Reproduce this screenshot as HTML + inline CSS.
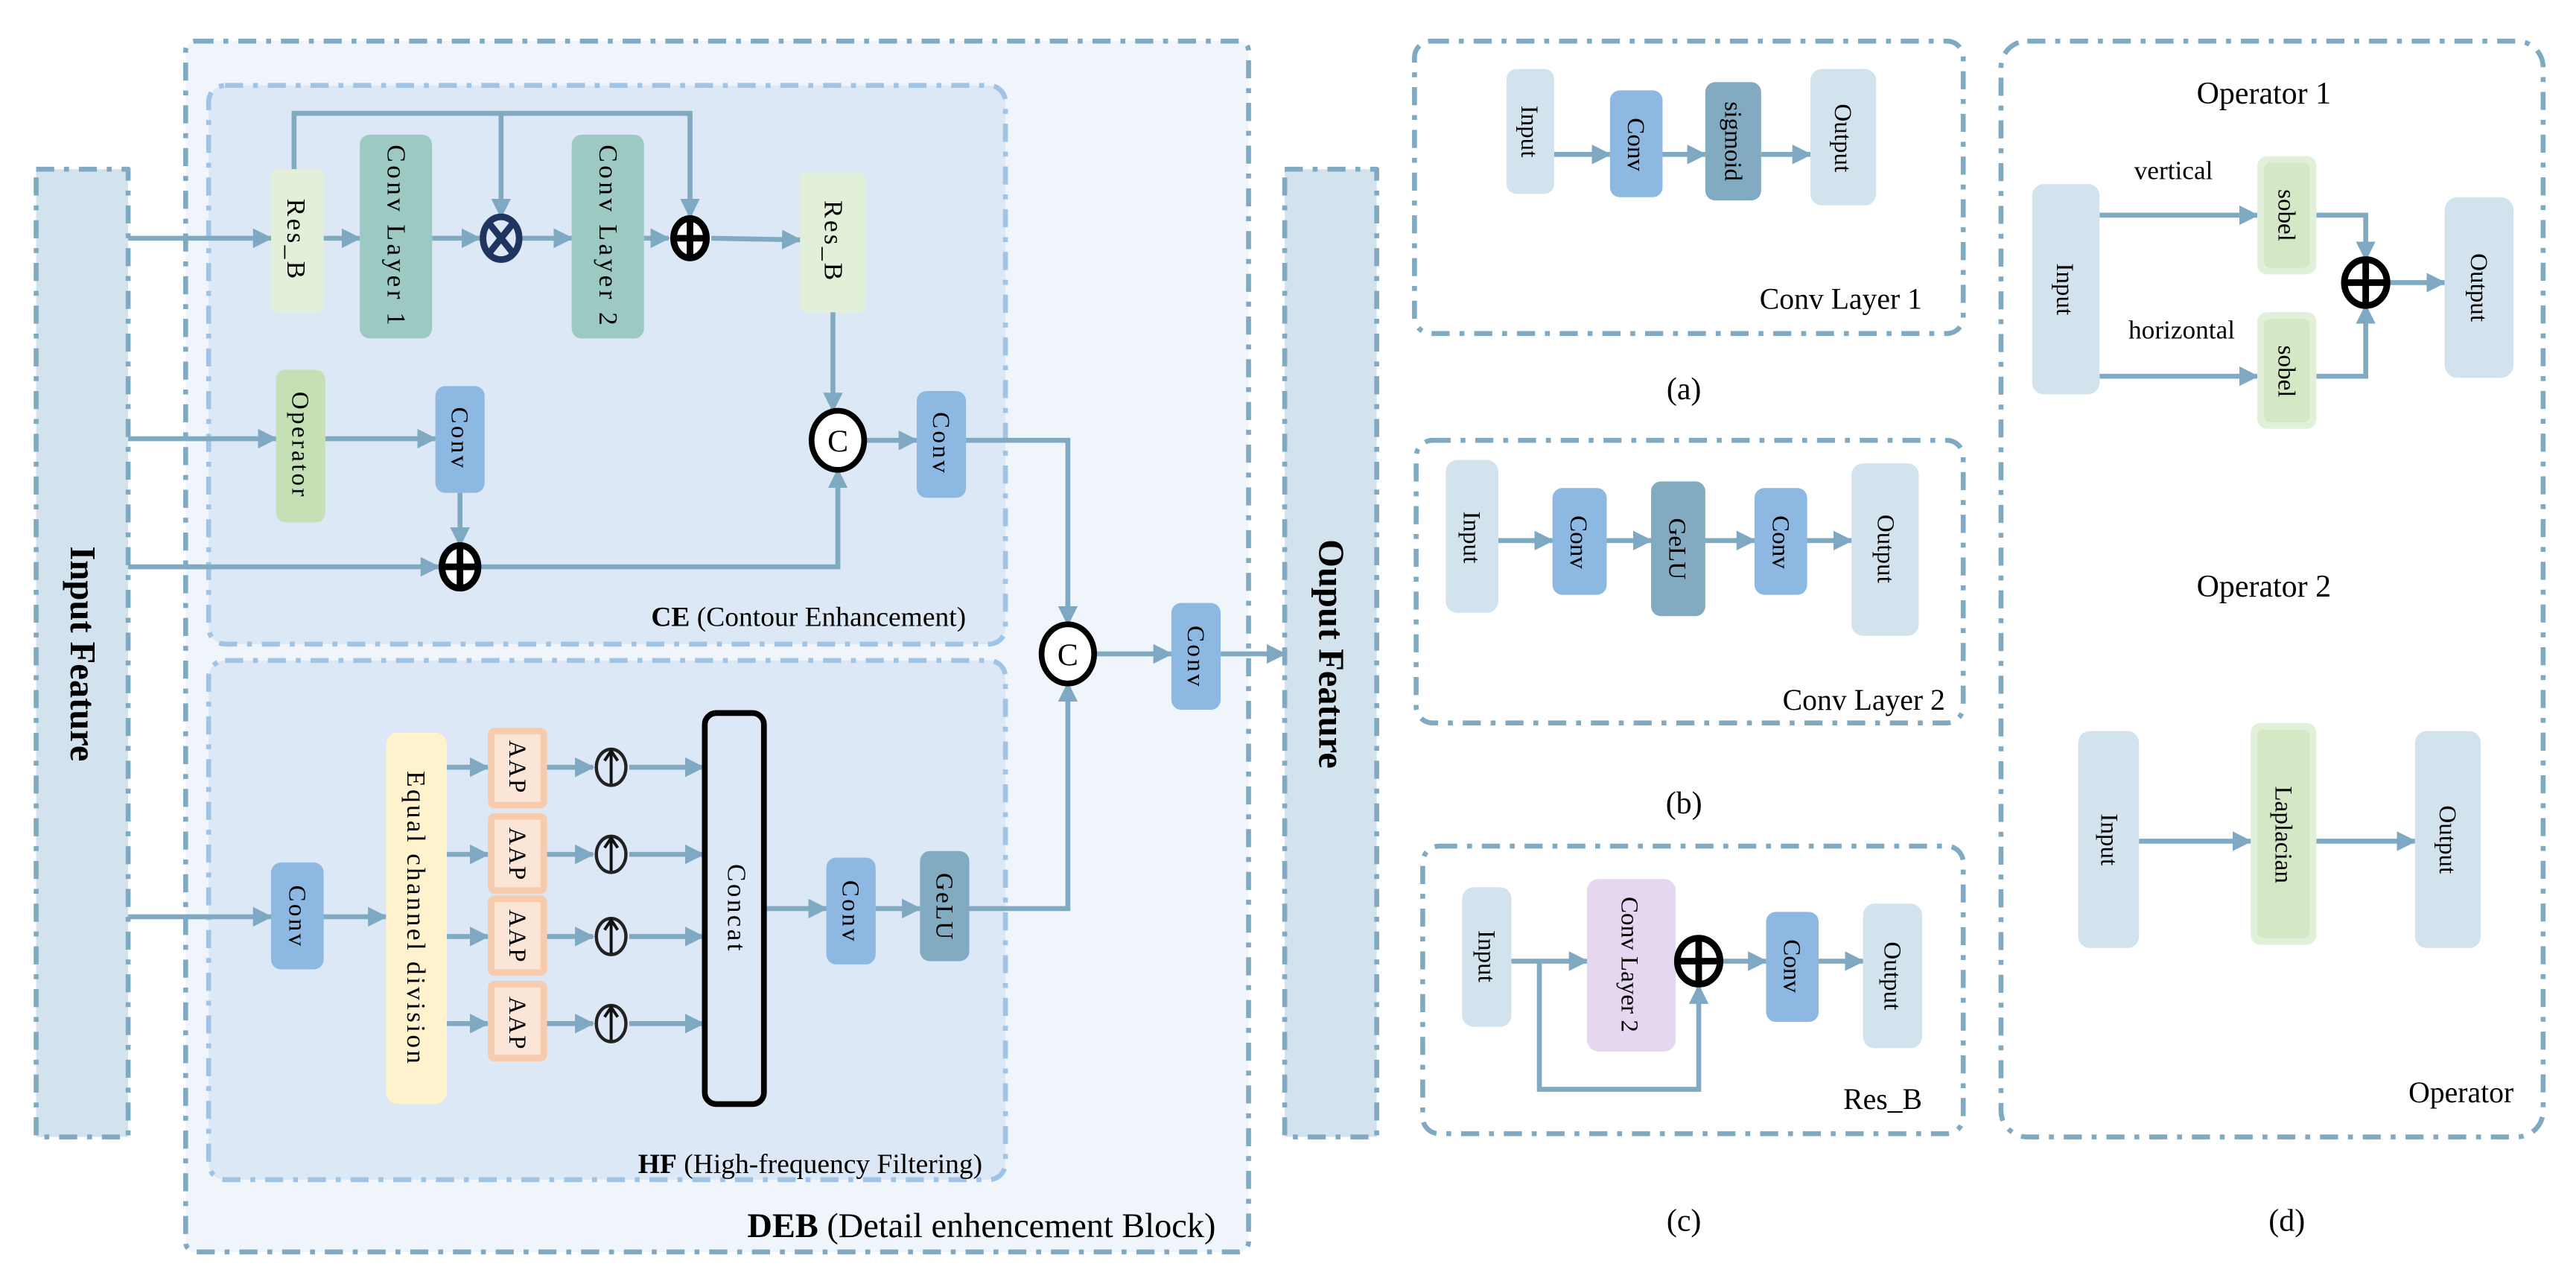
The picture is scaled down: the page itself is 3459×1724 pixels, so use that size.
<!DOCTYPE html>
<html><head><meta charset="utf-8"><style>
html,body{margin:0;padding:0;background:#fff}
svg{display:block}
text{font-family:"Liberation Serif","DejaVu Serif",serif;fill:#000}
</style></head><body>
<svg width="3459" height="1724" viewBox="0 0 1568 781.5" xmlns="http://www.w3.org/2000/svg" font-family="Liberation Serif, DejaVu Serif, serif">
<defs>
<marker id="a" markerWidth="12" markerHeight="12" refX="11" refY="6" orient="auto" markerUnits="userSpaceOnUse">
<path d="M0,0 L12,6 L0,12 z" fill="#7fa9c2"/></marker>
</defs>
<g stroke-linejoin="round">
<rect x="113" y="25" width="647" height="737" rx="6" fill="#f0f5fb" stroke="#80a9c2" stroke-width="3" stroke-dasharray="11 6 3 6"/>
<rect x="127" y="52" width="485" height="340" rx="10" fill="#dce8f5" stroke="#a0c4e6" stroke-width="3" stroke-dasharray="11 6 3 6"/>
<rect x="127" y="402" width="485" height="316" rx="10" fill="#dce8f5" stroke="#a0c4e6" stroke-width="3" stroke-dasharray="11 6 3 6"/>
<rect x="22" y="103" width="56" height="589" fill="#d2e3ee" stroke="#80a9c2" stroke-width="3" stroke-dasharray="11 6 3 6"/>
<rect x="782" y="103" width="56" height="589" fill="#d2e3ee" stroke="#80a9c2" stroke-width="3" stroke-dasharray="11 6 3 6"/>
</g>
<text transform="translate(43,398) rotate(90)" text-anchor="middle" font-size="22" font-weight="bold">Input Feature</text>
<text transform="translate(803,398) rotate(90)" text-anchor="middle" font-size="22" font-weight="bold">Ouput Feature</text>

<g stroke="#80a9c2" stroke-width="3" fill="none">
<line x1="78" y1="145" x2="165" y2="145" marker-end="url(#a)"/>
<line x1="197" y1="145" x2="219" y2="145" marker-end="url(#a)"/>
<line x1="263" y1="145" x2="292" y2="145" marker-end="url(#a)"/>
<line x1="318" y1="145" x2="348" y2="145" marker-end="url(#a)"/>
<line x1="392" y1="145" x2="407" y2="145" marker-end="url(#a)"/>
<line x1="433" y1="145" x2="487" y2="146" marker-end="url(#a)"/>
<polyline points="179,103 179,69 420,69 420,132" marker-end="url(#a)"/>
<line x1="305" y1="69" x2="305" y2="132" marker-end="url(#a)"/>
<line x1="78" y1="267" x2="168" y2="267" marker-end="url(#a)"/>
<line x1="198" y1="267" x2="265" y2="267" marker-end="url(#a)"/>
<line x1="280" y1="300" x2="280" y2="332" marker-end="url(#a)"/>
<line x1="78" y1="345" x2="267" y2="345" marker-end="url(#a)"/>
<polyline points="293,345 510,345 510,286" marker-end="url(#a)"/>
<line x1="507" y1="190" x2="507" y2="250" marker-end="url(#a)"/>
<line x1="527" y1="268" x2="558" y2="268" marker-end="url(#a)"/>
<polyline points="588,268 650,268 650,380" marker-end="url(#a)"/>
<line x1="667" y1="398" x2="713" y2="398" marker-end="url(#a)"/>
<line x1="743" y1="398" x2="782" y2="398" marker-end="url(#a)"/>
<line x1="78" y1="558" x2="165" y2="558" marker-end="url(#a)"/>
<line x1="197" y1="558" x2="235" y2="558" marker-end="url(#a)"/>
<line x1="272" y1="467" x2="297" y2="467" marker-end="url(#a)"/>
<line x1="272" y1="520" x2="297" y2="520" marker-end="url(#a)"/>
<line x1="272" y1="570" x2="297" y2="570" marker-end="url(#a)"/>
<line x1="272" y1="623" x2="297" y2="623" marker-end="url(#a)"/>
<line x1="332" y1="467" x2="361" y2="467" marker-end="url(#a)"/>
<line x1="332" y1="520" x2="361" y2="520" marker-end="url(#a)"/>
<line x1="332" y1="570" x2="361" y2="570" marker-end="url(#a)"/>
<line x1="332" y1="623" x2="361" y2="623" marker-end="url(#a)"/>
<line x1="383" y1="467" x2="428" y2="467" marker-end="url(#a)"/>
<line x1="383" y1="520" x2="428" y2="520" marker-end="url(#a)"/>
<line x1="383" y1="570" x2="428" y2="570" marker-end="url(#a)"/>
<line x1="383" y1="623" x2="428" y2="623" marker-end="url(#a)"/>
<line x1="465" y1="553" x2="503" y2="553" marker-end="url(#a)"/>
<line x1="533" y1="553" x2="560" y2="553" marker-end="url(#a)"/>
<polyline points="590,553 650,553 650,416" marker-end="url(#a)"/>
</g>

<rect x="165" y="103" width="32" height="87" rx="4" fill="#e2efd9"/>
<text transform="translate(175,146) rotate(90)" text-anchor="middle" font-size="16" letter-spacing="1.5">Res_B</text>
<rect x="219" y="82" width="44" height="124" rx="6" fill="#9ccac3"/>
<text transform="translate(236,144) rotate(90)" text-anchor="middle" font-size="16" letter-spacing="2">Conv Layer 1</text>
<rect x="348" y="82" width="44" height="124" rx="6" fill="#9ccac3"/>
<text transform="translate(365,144) rotate(90)" text-anchor="middle" font-size="16" letter-spacing="2">Conv Layer 2</text>
<rect x="487" y="105" width="40" height="85" rx="4" fill="#e2efd9"/>
<text transform="translate(502,147) rotate(90)" text-anchor="middle" font-size="16" letter-spacing="1.5">Res_B</text>
<rect x="168" y="225" width="30" height="93" rx="6" fill="#c5e0b4"/>
<text transform="translate(178,271) rotate(90)" text-anchor="middle" font-size="15" letter-spacing="1.5">Operator</text>
<rect x="265" y="235" width="30" height="65" rx="6" fill="#8db8e2"/>
<text transform="translate(275,267) rotate(90)" text-anchor="middle" font-size="15" letter-spacing="1.5">Conv</text>
<rect x="558" y="238" width="30" height="65" rx="6" fill="#8db8e2"/>
<text transform="translate(568,270) rotate(90)" text-anchor="middle" font-size="15" letter-spacing="1.5">Conv</text>
<rect x="713" y="367" width="30" height="65" rx="6" fill="#8db8e2"/>
<text transform="translate(723,400) rotate(90)" text-anchor="middle" font-size="15" letter-spacing="1.5">Conv</text>
<ellipse cx="305" cy="145" rx="11" ry="13" fill="#dce8f5" stroke="#1f3560" stroke-width="4"/>
<path d="M297,135 L313,155 M313,135 L297,155" stroke="#1f3560" stroke-width="4"/>
<ellipse cx="420" cy="145" rx="10" ry="12" fill="#fff" stroke="#000" stroke-width="4"/>
<path d="M410,145 H430 M420,133 V157" stroke="#000" stroke-width="4"/>
<ellipse cx="280" cy="345" rx="11" ry="13" fill="#fff" stroke="#000" stroke-width="4"/>
<path d="M269,345 H291 M280,332 V358" stroke="#000" stroke-width="4"/>
<ellipse cx="510" cy="268" rx="16" ry="18" fill="#fff" stroke="#000" stroke-width="3.5"/>
<text x="510" y="275" text-anchor="middle" font-size="19">C</text>
<ellipse cx="650" cy="398" rx="16" ry="18" fill="#fff" stroke="#000" stroke-width="3.5"/>
<text x="650" y="405" text-anchor="middle" font-size="19">C</text>
<text x="588" y="381" text-anchor="end" font-size="17"><tspan font-weight="bold">CE</tspan> (Contour Enhancement)</text>

<rect x="165" y="525" width="32" height="65" rx="6" fill="#8db8e2"/>
<text transform="translate(176,558) rotate(90)" text-anchor="middle" font-size="15" letter-spacing="1.5">Conv</text>
<rect x="235" y="446" width="37" height="226" rx="7" fill="#fff2cc"/>
<text transform="translate(248,559) rotate(90)" text-anchor="middle" font-size="16" letter-spacing="1.5">Equal channel division</text>
<g fill="#fbe5d6" stroke="#f8cbad" stroke-width="4">
<rect x="299" y="445" width="32" height="45" rx="2"/>
<rect x="299" y="497" width="32" height="45" rx="2"/>
<rect x="299" y="547" width="32" height="45" rx="2"/>
<rect x="299" y="599" width="32" height="45" rx="2"/>
</g>
<text transform="translate(310,467) rotate(90)" text-anchor="middle" font-size="15" letter-spacing="1">AAP</text>
<text transform="translate(310,520) rotate(90)" text-anchor="middle" font-size="15" letter-spacing="1">AAP</text>
<text transform="translate(310,570) rotate(90)" text-anchor="middle" font-size="15" letter-spacing="1">AAP</text>
<text transform="translate(310,623) rotate(90)" text-anchor="middle" font-size="15" letter-spacing="1">AAP</text>
<g fill="#dce8f5" stroke="#222" stroke-width="2">
<ellipse cx="372" cy="467" rx="9" ry="11"/><ellipse cx="372" cy="520" rx="9" ry="11"/>
<ellipse cx="372" cy="570" rx="9" ry="11"/><ellipse cx="372" cy="623" rx="9" ry="11"/>
</g>
<g stroke="#111" stroke-width="1.8" fill="none">
<path d="M372,477 V458 M368,463 L372,457 L376,463"/>
<path d="M372,530 V511 M368,516 L372,510 L376,516"/>
<path d="M372,580 V561 M368,566 L372,560 L376,566"/>
<path d="M372,633 V614 M368,619 L372,613 L376,619"/>
</g>
<rect x="429" y="434" width="36" height="238" rx="7" fill="#dce8f5" stroke="#000" stroke-width="3.5"/>
<text transform="translate(443,553) rotate(90)" text-anchor="middle" font-size="16" letter-spacing="1.5">Concat</text>
<rect x="503" y="522" width="30" height="65" rx="6" fill="#8db8e2"/>
<text transform="translate(513,555) rotate(90)" text-anchor="middle" font-size="15" letter-spacing="1.5">Conv</text>
<rect x="560" y="518" width="30" height="67" rx="6" fill="#82aac0"/>
<text transform="translate(570,552) rotate(90)" text-anchor="middle" font-size="15" letter-spacing="1">GeLU</text>
<text x="598" y="714" text-anchor="end" font-size="17"><tspan font-weight="bold">HF</tspan> (High-frequency Filtering)</text>
<text x="740" y="753" text-anchor="end" font-size="21"><tspan font-weight="bold">DEB</tspan> (Detail enhencement Block)</text>

<g fill="none" stroke="#80a9c2" stroke-width="3" stroke-dasharray="11 6 3 6">
<rect x="861" y="25" width="334" height="178" rx="10"/>
<rect x="862" y="268" width="333" height="172" rx="10"/>
<rect x="866" y="515" width="329" height="175" rx="10"/>
<rect x="1218" y="25" width="330" height="667" rx="16"/>
</g>
<g stroke="#80a9c2" stroke-width="3" fill="none">
<line x1="946" y1="94" x2="980" y2="94" marker-end="url(#a)"/>
<line x1="1012" y1="94" x2="1038" y2="94" marker-end="url(#a)"/>
<line x1="1072" y1="94" x2="1102" y2="94" marker-end="url(#a)"/>
<line x1="912" y1="329" x2="945" y2="329" marker-end="url(#a)"/>
<line x1="978" y1="329" x2="1005" y2="329" marker-end="url(#a)"/>
<line x1="1038" y1="329" x2="1068" y2="329" marker-end="url(#a)"/>
<line x1="1100" y1="329" x2="1127" y2="329" marker-end="url(#a)"/>
<line x1="920" y1="585" x2="966" y2="585" marker-end="url(#a)"/>
<line x1="1020" y1="585" x2="1021" y2="585" marker-end="url(#a)"/>
<line x1="1048" y1="585" x2="1075" y2="585" marker-end="url(#a)"/>
<line x1="1107" y1="585" x2="1134" y2="585" marker-end="url(#a)"/>
<polyline points="937,585 937,663 1034,663 1034,600" marker-end="url(#a)"/>
<line x1="1278" y1="131" x2="1374" y2="131" marker-end="url(#a)"/>
<line x1="1278" y1="229" x2="1374" y2="229" marker-end="url(#a)"/>
<polyline points="1410,131 1440,131 1440,158" marker-end="url(#a)"/>
<polyline points="1410,229 1440,229 1440,186" marker-end="url(#a)"/>
<line x1="1454" y1="172" x2="1488" y2="172" marker-end="url(#a)"/>
<line x1="1302" y1="512" x2="1370" y2="512" marker-end="url(#a)"/>
<line x1="1410" y1="512" x2="1470" y2="512" marker-end="url(#a)"/>
</g>
<rect x="917" y="42" width="29" height="76" rx="6" fill="#d2e3ee"/>
<text transform="translate(926,80) rotate(90)" text-anchor="middle" font-size="15">Input</text>
<rect x="980" y="55" width="32" height="65" rx="6" fill="#8db8e2"/>
<text transform="translate(991,88) rotate(90)" text-anchor="middle" font-size="15">Conv</text>
<rect x="1038" y="50" width="34" height="72" rx="6" fill="#82aac0"/>
<text transform="translate(1050,86) rotate(90)" text-anchor="middle" font-size="15">sigmoid</text>
<rect x="1102" y="42" width="40" height="83" rx="7" fill="#d2e3ee"/>
<text transform="translate(1117,84) rotate(90)" text-anchor="middle" font-size="15">Output</text>
<text x="1170" y="188" text-anchor="end" font-size="18">Conv Layer 1</text>
<text x="1025" y="243" text-anchor="middle" font-size="19">(a)</text>
<rect x="880" y="280" width="32" height="93" rx="7" fill="#d2e3ee"/>
<text transform="translate(891,327) rotate(90)" text-anchor="middle" font-size="15">Input</text>
<rect x="945" y="297" width="33" height="65" rx="6" fill="#8db8e2"/>
<text transform="translate(956,330) rotate(90)" text-anchor="middle" font-size="15">Conv</text>
<rect x="1005" y="293" width="33" height="82" rx="6" fill="#82aac0"/>
<text transform="translate(1016,334) rotate(90)" text-anchor="middle" font-size="15">GeLU</text>
<rect x="1068" y="297" width="32" height="65" rx="6" fill="#8db8e2"/>
<text transform="translate(1079,330) rotate(90)" text-anchor="middle" font-size="15">Conv</text>
<rect x="1127" y="282" width="41" height="105" rx="7" fill="#d2e3ee"/>
<text transform="translate(1143,334) rotate(90)" text-anchor="middle" font-size="15">Output</text>
<text x="1184" y="432" text-anchor="end" font-size="18">Conv Layer 2</text>
<text x="1025" y="495" text-anchor="middle" font-size="19">(b)</text>
<rect x="890" y="540" width="30" height="85" rx="7" fill="#d2e3ee"/>
<text transform="translate(900,582) rotate(90)" text-anchor="middle" font-size="15">Input</text>
<rect x="966" y="535" width="54" height="105" rx="7" fill="#e4d7ef"/>
<text transform="translate(987,587) rotate(90)" text-anchor="middle" font-size="15">Conv Layer 2</text>
<ellipse cx="1034" cy="585" rx="13" ry="14" fill="#fff" stroke="#000" stroke-width="4"/>
<path d="M1021,585 H1047 M1034,571 V599" stroke="#000" stroke-width="4"/>
<rect x="1075" y="555" width="32" height="67" rx="6" fill="#8db8e2"/>
<text transform="translate(1086,588) rotate(90)" text-anchor="middle" font-size="15">Conv</text>
<rect x="1134" y="550" width="36" height="88" rx="7" fill="#d2e3ee"/>
<text transform="translate(1147,594) rotate(90)" text-anchor="middle" font-size="15">Output</text>
<text x="1170" y="675" text-anchor="end" font-size="18">Res_B</text>
<text x="1025" y="749" text-anchor="middle" font-size="19">(c)</text>
<text x="1378" y="63" text-anchor="middle" font-size="19">Operator 1</text>
<text x="1323" y="109" text-anchor="middle" font-size="16">vertical</text>
<text x="1328" y="206" text-anchor="middle" font-size="16">horizontal</text>
<rect x="1237" y="112" width="41" height="128" rx="7" fill="#d2e3ee"/>
<text transform="translate(1252,176) rotate(90)" text-anchor="middle" font-size="15">Input</text>
<rect x="1374" y="95" width="36" height="72" rx="6" fill="#e2efd9"/>
<rect x="1378" y="99" width="28" height="64" rx="4" fill="#d4e8c6"/>
<text transform="translate(1387,131) rotate(90)" text-anchor="middle" font-size="15">sobel</text>
<rect x="1374" y="190" width="36" height="71" rx="6" fill="#e2efd9"/>
<rect x="1378" y="194" width="28" height="63" rx="4" fill="#d4e8c6"/>
<text transform="translate(1387,226) rotate(90)" text-anchor="middle" font-size="15">sobel</text>
<ellipse cx="1440" cy="172" rx="13" ry="14" fill="#fff" stroke="#000" stroke-width="4"/>
<path d="M1427,172 H1453 M1440,158 V186" stroke="#000" stroke-width="4"/>
<rect x="1488" y="120" width="42" height="110" rx="8" fill="#d2e3ee"/>
<text transform="translate(1504,175) rotate(90)" text-anchor="middle" font-size="15">Output</text>
<text x="1378" y="363" text-anchor="middle" font-size="19">Operator 2</text>
<rect x="1265" y="445" width="37" height="132" rx="7" fill="#d2e3ee"/>
<text transform="translate(1279,511) rotate(90)" text-anchor="middle" font-size="15">Input</text>
<rect x="1370" y="440" width="40" height="135" rx="6" fill="#e2efd9"/>
<rect x="1374" y="444" width="32" height="127" rx="4" fill="#d4e8c6"/>
<text transform="translate(1385,508) rotate(90)" text-anchor="middle" font-size="15">Laplacian</text>
<rect x="1470" y="445" width="40" height="132" rx="7" fill="#d2e3ee"/>
<text transform="translate(1485,511) rotate(90)" text-anchor="middle" font-size="15">Output</text>
<text x="1530" y="671" text-anchor="end" font-size="18">Operator</text>
<text x="1392" y="749" text-anchor="middle" font-size="19">(d)</text>
</svg>
</body></html>
